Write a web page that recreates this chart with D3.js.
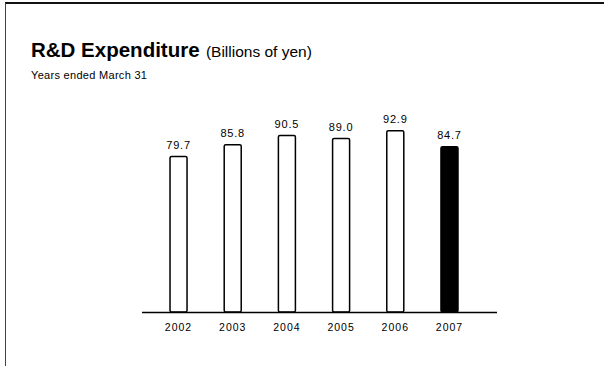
<!DOCTYPE html>
<html>
<head>
<meta charset="utf-8">
<script src="https://cdn.jsdelivr.net/npm/d3@7"></script>
<style>
  body { margin: 0; background: #fff; }
  text { font-family: "Liberation Sans", Arial, Helvetica, sans-serif; fill: #000; }
</style>
</head>
<body>
<svg id="chart"></svg>
<script>
const years = ["2002", "2003", "2004", "2005", "2006", "2007"];
const values = [79.7, 85.8, 90.5, 89.0, 92.9, 84.7];
const highlight = "2007";

const width = 604, height = 366;
const svg = d3.select("#chart").attr("width", width).attr("height", height);

// frame (scanned page edges)
svg.append("line").attr("x1", 5).attr("x2", width).attr("y1", 3).attr("y2", 3)
  .attr("stroke", "#111").attr("stroke-width", 2);
svg.append("line").attr("x1", 5.5).attr("x2", 5.5).attr("y1", 3).attr("y2", height)
  .attr("stroke", "#444").attr("stroke-width", 1);

// titles
const title = svg.append("text").attr("x", 31).attr("y", 57);
title.append("tspan").attr("font-size", 20.5).attr("font-weight", "bold").text("R&D Expenditure");
title.append("tspan").attr("font-size", 15.5).attr("dx", 2).text(" (Billions of yen)");

svg.append("text").attr("x", 31).attr("y", 79).attr("font-size", 11)
  .attr("letter-spacing", 0.3)
  .text("Years ended March 31");

const x = d3.scaleBand()
  .domain(years)
  .range([142, 486])
  .paddingInner(0.686)
  .paddingOuter(0.517);

const y = d3.scaleLinear()
  .domain([0, 100])
  .range([312, 117]);

const data = years.map((d, i) => ({year: d, value: values[i]}));

svg.selectAll("rect.bar")
  .data(data)
  .enter()
  .append("rect")
  .attr("class", "bar")
  .attr("x", d => x(d.year))
  .attr("y", d => y(d.value))
  .attr("width", x.bandwidth())
  .attr("height", d => y(0) - y(d.value))
  .attr("rx", 1.5)
  .attr("fill", d => d.year === highlight ? "#000" : "#fff")
  .attr("stroke", "#000")
  .attr("stroke-width", 1.5);

svg.selectAll("text.val")
  .data(data)
  .enter()
  .append("text")
  .attr("class", "val")
  .attr("x", d => x(d.year) + x.bandwidth() / 2)
  .attr("y", d => y(d.value) - 7.5)
  .attr("text-anchor", "middle")
  .attr("font-size", 11)
  .attr("letter-spacing", 0.8)
  .text(d => d.value.toFixed(1));

// baseline
svg.append("line").attr("x1", 142).attr("x2", 497).attr("y1", 312.5).attr("y2", 312.5)
  .attr("stroke", "#000").attr("stroke-width", 1.5);

const xAxis = d3.axisBottom(x).tickSize(0).tickPadding(11);
const gx = svg.append("g").attr("transform", "translate(0,313)").call(xAxis);
gx.select(".domain").remove();
gx.selectAll("text").attr("font-size", 10.5).attr("font-family", null)
  .attr("letter-spacing", 1);
</script>
</body>
</html>
